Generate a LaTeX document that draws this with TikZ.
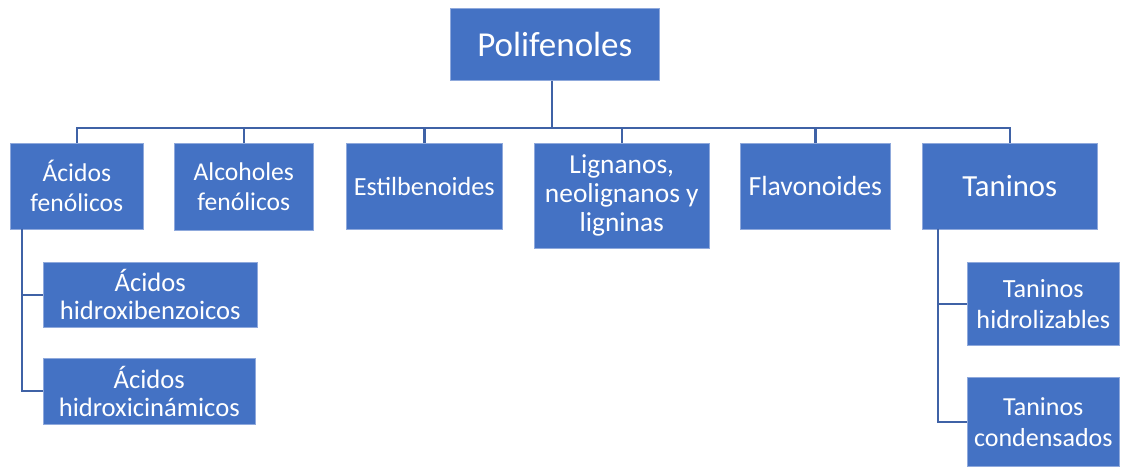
\documentclass[tikz,border=0pt]{standalone}
\usepackage{fontspec}
\setmainfont{Carlito}
\definecolor{boxblue}{HTML}{4472C4}
\definecolor{linkblue}{HTML}{3F62A6}
\definecolor{edgeblue}{HTML}{8FA9DC}
\begin{document}
\begin{tikzpicture}[x=1bp,y=-1bp,
  box/.style={rectangle,fill=boxblue,draw=edgeblue,line width=0.6bp,text=white,
    align=center,inner sep=0pt,anchor=north west},
  link/.style={draw=linkblue,line width=2.4bp},
  fa/.style={font=\fontsize{25.6bp}{30bp}\selectfont},
  fb/.style={font=\fontsize{26.6bp}{28bp}\selectfont},
  fr/.style={font=\fontsize{35bp}{40bp}\selectfont}]
\useasboundingbox (0,0) rectangle (1121,467);
% root
\node[box,fr,minimum width=209bp,minimum height=72bp] (root) at (450,8) {Polifenoles};
% level 1
\node[box,fa,minimum width=133bp,minimum height=86bp] (a1) at (10,143) {Ácidos\\fenólicos};
\node[box,fa,minimum width=139bp,minimum height=87bp] (a2) at (174,143) {Alcoholes\\fenólicos};
\node[box,fa,minimum width=156bp,minimum height=86bp,font=\fontsize{26.2bp}{30bp}\selectfont] (a3) at (346,143) {Estilbenoides};
\node[box,fa,minimum width=175bp,minimum height=105bp,font=\fontsize{27.4bp}{29bp}\selectfont] (a4) at (534,143) {Lignanos,\\neolignanos y\\ligninas};
\node[box,fa,minimum width=150bp,minimum height=86bp,font=\fontsize{27.7bp}{30bp}\selectfont] (a5) at (740,143) {Flavonoides};
\node[box,fa,minimum width=175bp,minimum height=86bp,font=\fontsize{30.7bp}{34bp}\selectfont] (a6) at (922,143) {Taninos};
% level 2
\node[box,fb,minimum width=214bp,minimum height=65bp] (s1) at (43,262) {Ácidos\\hidroxibenzoicos};
\node[box,fb,minimum width=212bp,minimum height=66bp] (s2) at (43,358) {Ácidos\\hidroxicinámicos};
\node[box,fb,minimum width=152bp,minimum height=83bp,font=\fontsize{26.2bp}{31bp}\selectfont] (s3) at (967,262) {Taninos\\hidrolizables};
\node[box,fb,minimum width=152bp,minimum height=89bp,font=\fontsize{26bp}{31bp}\selectfont] (s4) at (967,377) {Taninos\\condensados};
% connectors
\coordinate (bus) at (552,128);
\coordinate (lt) at (22,229);
\coordinate (rt) at (938,229);
\draw[link] (root.south -| bus) -- (bus);
\foreach \n in {a1,a2,a3,a4,a5,a6} \draw[link] (\n.north) |- (bus);
\draw[link] (lt) |- (s1.west);
\draw[link] (lt) |- (s2.west);
\draw[link] (rt) |- (s3.west);
\draw[link] (rt) |- (s4.west);
\end{tikzpicture}
\end{document}
